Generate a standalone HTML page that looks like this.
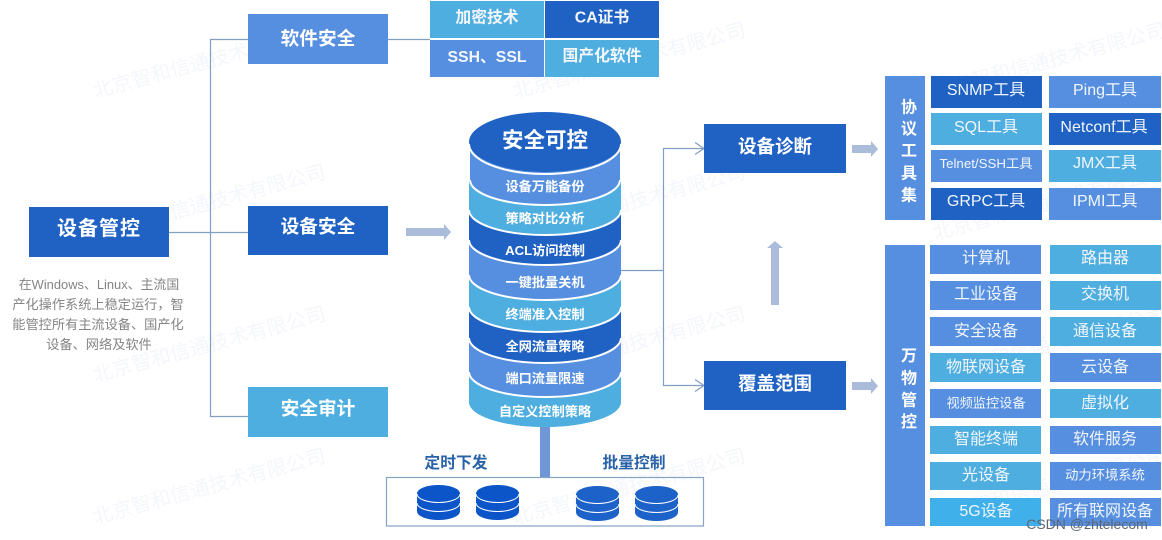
<!DOCTYPE html>
<html><head><meta charset="utf-8">
<style>
html,body{margin:0;padding:0;background:#fff;width:1162px;height:540px;overflow:hidden}
svg{display:block;filter:blur(.3px)}
text{font-family:"Liberation Sans","Noto Sans CJK SC",sans-serif;text-anchor:middle}
.w{fill:#fff;font-weight:700}
.g{fill:#f3f7fd;font-weight:700}
.c{fill:#f1f6fd}
.wm{fill:#f4f6fb;font-size:20px;text-anchor:start}
.d{fill:#858585;font-size:13.2px}
</style></head><body>
<svg width="1162" height="540" viewBox="0 0 1162 540" xmlns="http://www.w3.org/2000/svg">
<rect width="1162" height="540" fill="#fff"/>
<!-- watermarks -->
<g>
<text class="wm" transform="translate(95,98) rotate(-15)">北京智和信通技术有限公司</text>
<text class="wm" transform="translate(515,98) rotate(-15)">北京智和信通技术有限公司</text>
<text class="wm" transform="translate(935,98) rotate(-15)">北京智和信通技术有限公司</text>
<text class="wm" transform="translate(95,240) rotate(-15)">北京智和信通技术有限公司</text>
<text class="wm" transform="translate(515,240) rotate(-15)">北京智和信通技术有限公司</text>
<text class="wm" transform="translate(935,240) rotate(-15)">北京智和信通技术有限公司</text>
<text class="wm" transform="translate(95,382) rotate(-15)">北京智和信通技术有限公司</text>
<text class="wm" transform="translate(515,382) rotate(-15)">北京智和信通技术有限公司</text>
<text class="wm" transform="translate(935,382) rotate(-15)">北京智和信通技术有限公司</text>
<text class="wm" transform="translate(95,524) rotate(-15)">北京智和信通技术有限公司</text>
<text class="wm" transform="translate(515,524) rotate(-15)">北京智和信通技术有限公司</text>
<text class="wm" transform="translate(935,524) rotate(-15)">北京智和信通技术有限公司</text>
</g>
<!-- connectors -->
<g fill="none" stroke="#7f9fc4" stroke-width="1.200">
<path d="M169 232.500H248M248 39.500H210.500V416.500H248M388 39.500H430"/>
<path d="M621 270.500H663M704 148.500H663.500V385.500H704"/>
<path d="M695 142.500L704 148.500L695 154.500M695 379.500L704 385.500L695 391.500"/>
</g>
<!-- thick arrows -->
<g fill="#aabcd9">
<path d="M406 228H444V224L451 232L444 240V236H406Z"/>
<path d="M852 145H871V141L878 149L871 157V153H852Z"/>
<path d="M852 382H871V378L878 386L871 394V390H852Z"/>
<path d="M771 305V248H767L775 241L783 248H779V305Z"/>
</g>
<!-- left -->
<rect x="29" y="207" width="140" height="50" fill="#1f62c4"/>
<text class="w" x="99" y="235" font-size="20" letter-spacing="1">设备管控</text>
<text class="d" x="99" y="289" style="font-size:12.900px">在Windows、Linux、主流国</text>
<text class="d" x="98" y="309">产化操作系统上稳定运行，智</text>
<text class="d" x="98" y="329">能管控所有主流设备、国产化</text>
<text class="d" x="99" y="349">设备、网络及软件</text>
<!-- mid boxes -->
<rect x="248" y="14" width="140" height="50" fill="#578fe0"/>
<text class="w" x="318" y="45" font-size="18.700">软件安全</text>
<rect x="248" y="206" width="140" height="49" fill="#1f62c4"/>
<text class="w" x="318" y="233" font-size="18.700">设备安全</text>
<rect x="248" y="387" width="140" height="50" fill="#4eaee0"/>
<text class="w" x="318" y="415" font-size="18.700">安全审计</text>
<!-- grid -->
<rect x="430" y="1" width="114" height="37" fill="#4eaee0"/>
<rect x="545" y="1" width="114" height="37" fill="#1f62c4"/>
<rect x="430" y="40" width="114" height="37" fill="#578fe0"/>
<rect x="545" y="40" width="114" height="37" fill="#4eaee0"/>
<g font-size="15.800">
<text class="g" x="487" y="22.500">加密技术</text>
<text class="g" x="602" y="22.500">CA证书</text>
<text class="g" x="487" y="62">SSH、SSL</text>
<text class="g" x="602" y="61">国产化软件</text>
</g>
<!-- cylinder -->
<g>
<path d="M469 396V402A76 25 0 0 0 621 402V396Z" fill="#4eaee0"/>
<path d="M469 372V402A76 25 0 0 0 621 402V372Z" fill="#4eaee0"/>
<path d="M469 338V372A76 25 0 0 0 621 372V338Z" fill="#578fe0"/>
<path d="M469 372A76 25 0 0 0 621 372" fill="none" stroke="#fff" stroke-width="2"/>
<path d="M469 307V338A76 25 0 0 0 621 338V307Z" fill="#1f62c4"/>
<path d="M469 338A76 25 0 0 0 621 338" fill="none" stroke="#fff" stroke-width="2"/>
<path d="M469 275V307A76 25 0 0 0 621 307V275Z" fill="#4eaee0"/>
<path d="M469 307A76 25 0 0 0 621 307" fill="none" stroke="#fff" stroke-width="2"/>
<path d="M469 240V275A76 25 0 0 0 621 275V240Z" fill="#578fe0"/>
<path d="M469 275A76 25 0 0 0 621 275" fill="none" stroke="#fff" stroke-width="2"/>
<path d="M469 210V240A76 25 0 0 0 621 240V210Z" fill="#1f62c4"/>
<path d="M469 240A76 25 0 0 0 621 240" fill="none" stroke="#fff" stroke-width="2"/>
<path d="M469 180V210A76 25 0 0 0 621 210V180Z" fill="#4eaee0"/>
<path d="M469 210A76 25 0 0 0 621 210" fill="none" stroke="#fff" stroke-width="2"/>
<path d="M470 146V180A75 25 0 0 0 620 180V146Z" fill="#578fe0"/>
<path d="M470 180A75 25 0 0 0 620 180" fill="none" stroke="#fff" stroke-width="2"/>
<ellipse cx="545" cy="142" rx="76" ry="30" fill="#1f62c4"/>
<path d="M469 144A76 30 0 0 0 621 144" fill="none" stroke="#fff" stroke-width="2"/>
</g>
<text class="w" x="545" y="147.500" font-size="21.500">安全可控</text>
<g font-size="13.200">
<text class="w" x="545" y="191">设备万能备份</text>
<text class="w" x="545" y="223">策略对比分析</text>
<text class="w" x="545" y="255">ACL访问控制</text>
<text class="w" x="545" y="287">一键批量关机</text>
<text class="w" x="545" y="319">终端准入控制</text>
<text class="w" x="545" y="351">全网流量策略</text>
<text class="w" x="545" y="383">端口流量限速</text>
<text class="w" x="545" y="416">自定义控制策略</text>
</g>
<!-- stem and bottom box -->
<rect x="540" y="427" width="10" height="50" fill="#6f96d6"/>
<rect x="386.500" y="477.500" width="317" height="48.500" fill="none" stroke="#86a2c4" stroke-width="1.200"/>
<text x="456" y="468" font-size="15.800" font-weight="700" fill="#2a62a8">定时下发</text>
<text x="634" y="468" font-size="15.800" font-weight="700" fill="#2a62a8">批量控制</text>
<!-- small dbs -->
<g fill="#0b55c8">
<path d="M417 493V511.500A21.500 8.500 0 0 0 460 511.500V493Z"/><ellipse cx="438.500" cy="493.500" rx="21.500" ry="8.500"/>
<path d="M476 493V511.500A21.500 8.500 0 0 0 519 511.500V493Z"/><ellipse cx="497.500" cy="493.500" rx="21.500" ry="8.500"/>
</g>
<g fill="#1c62c8">
<path d="M576 494V512.500A21.500 8.500 0 0 0 619 512.500V494Z"/><ellipse cx="597.500" cy="494.500" rx="21.500" ry="8.500"/>
<path d="M635 494V512.500A21.500 8.500 0 0 0 678 512.500V494Z"/><ellipse cx="656.500" cy="494.500" rx="21.500" ry="8.500"/>
</g>
<g fill="none" stroke="#fff" stroke-width="1">
<path d="M417 494A21.500 8.500 0 0 0 460 494M417 503A21.500 8.500 0 0 0 460 503M476 494A21.500 8.500 0 0 0 519 494M476 503A21.500 8.500 0 0 0 519 503"/>
<path d="M576 495A21.500 8.500 0 0 0 619 495M576 504A21.500 8.500 0 0 0 619 504M635 495A21.500 8.500 0 0 0 678 495M635 504A21.500 8.500 0 0 0 678 504"/>
</g>
<!-- diagnosis / coverage -->
<rect x="704" y="124" width="142" height="49" fill="#1f62c4"/>
<text class="w" x="775" y="153" font-size="18.500">设备诊断</text>
<rect x="704" y="361" width="142" height="49" fill="#1f62c4"/>
<text class="w" x="775" y="390" font-size="18.500">覆盖范围</text>
<!-- tools panel -->
<rect x="885" y="76" width="40" height="144" fill="#578fe0"/>
<g font-size="16">
<text class="w" x="909" y="112.500">协</text>
<text class="w" x="909" y="134">议</text>
<text class="w" x="909" y="156">工</text>
<text class="w" x="909" y="178.500">具</text>
<text class="w" x="909" y="200.500">集</text>
</g>
<rect x="931" y="76" width="111" height="32" fill="#1f62c4"/>
<rect x="1049" y="76" width="112" height="32" fill="#578fe0"/>
<rect x="931" y="113" width="111" height="32" fill="#4eaee0"/>
<rect x="1049" y="113" width="112" height="32" fill="#1f62c4"/>
<rect x="931" y="150" width="111" height="32" fill="#578fe0"/>
<rect x="1049" y="150" width="112" height="32" fill="#4eaee0"/>
<rect x="931" y="188" width="111" height="32" fill="#1f62c4"/>
<rect x="1049" y="188" width="112" height="32" fill="#578fe0"/>
<g font-size="16">
<text class="c" x="986" y="95">SNMP工具</text>
<text class="c" x="1105" y="95">Ping工具</text>
<text class="c" x="986" y="132">SQL工具</text>
<text class="c" x="1104" y="132">Netconf工具</text>
<text class="c" x="986" y="168" font-size="13.300">Telnet/SSH工具</text>
<text class="c" x="1105" y="168">JMX工具</text>
<text class="c" x="986" y="206">GRPC工具</text>
<text class="c" x="1105" y="206">IPMI工具</text>
</g>
<!-- things panel -->
<rect x="885" y="245" width="40" height="281" fill="#578fe0"/>
<g font-size="16">
<text class="w" x="909" y="361">万</text>
<text class="w" x="909" y="383.500">物</text>
<text class="w" x="909" y="405.500">管</text>
<text class="w" x="909" y="427">控</text>
</g>
<g>
<rect x="930" y="245" width="111" height="29" fill="#578fe0"/>
<rect x="1050" y="245" width="111" height="29" fill="#4eaee0"/>
<rect x="930" y="281" width="111" height="29" fill="#578fe0"/>
<rect x="1050" y="281" width="111" height="29" fill="#4eaee0"/>
<rect x="930" y="317" width="111" height="29" fill="#578fe0"/>
<rect x="1050" y="317" width="111" height="29" fill="#4eaee0"/>
<rect x="930" y="353" width="111" height="29" fill="#4eaee0"/>
<rect x="1050" y="353" width="111" height="29" fill="#578fe0"/>
<rect x="930" y="389" width="111" height="29" fill="#578fe0"/>
<rect x="1050" y="389" width="111" height="29" fill="#4eaee0"/>
<rect x="930" y="426" width="111" height="28" fill="#4eaee0"/>
<rect x="1050" y="426" width="111" height="28" fill="#578fe0"/>
<rect x="930" y="462" width="111" height="28" fill="#4eaee0"/>
<rect x="1050" y="462" width="111" height="28" fill="#578fe0"/>
<rect x="930" y="498" width="111" height="28" fill="#3fb0ea"/>
<rect x="1050" y="498" width="111" height="28" fill="#578fe0"/>
</g>
<g font-size="16">
<text class="c" x="986" y="263">计算机</text>
<text class="c" x="1105" y="263">路由器</text>
<text class="c" x="986" y="299">工业设备</text>
<text class="c" x="1105" y="299">交换机</text>
<text class="c" x="986" y="336">安全设备</text>
<text class="c" x="1105" y="336">通信设备</text>
<text class="c" x="986" y="372">物联网设备</text>
<text class="c" x="1105" y="372">云设备</text>
<text class="c" x="986" y="407.500" font-size="13.200">视频监控设备</text>
<text class="c" x="1105" y="408">虚拟化</text>
<text class="c" x="986" y="444">智能终端</text>
<text class="c" x="1105" y="444">软件服务</text>
<text class="c" x="986" y="480">光设备</text>
<text class="c" x="1105" y="479.500" font-size="13.300">动力环境系统</text>
<text class="c" x="986" y="516">5G设备</text>
<text class="c" x="1105" y="516">所有联网设备</text>
</g>
<text x="1087" y="529" font-size="14" fill="#5f6670">CSDN @zhtelecom</text>
</svg>
</body></html>
